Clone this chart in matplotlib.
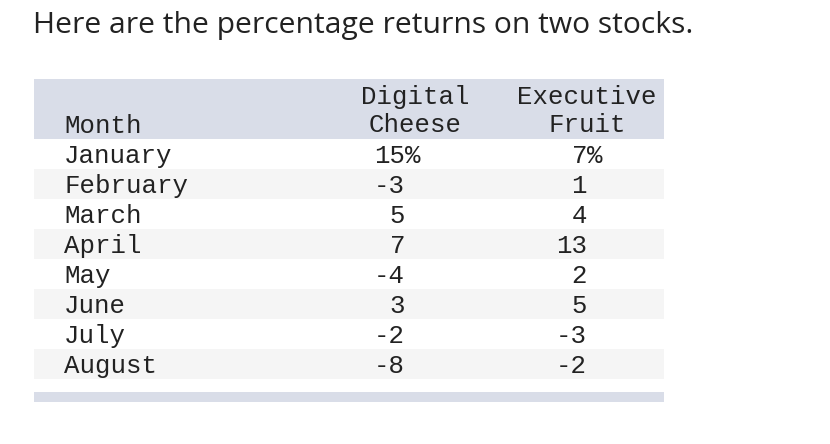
import matplotlib.pyplot as plt
import matplotlib.patches as patches

title = "Here are the percentage returns on two stocks."
col_heads = ["Month", "Digital\nCheese", "Executive\nFruit"]
months = ["January", "February", "March", "April", "May", "June", "July", "August"]
digital_cheese = [15, -3, 5, 7, -4, 3, -2, -8]
executive_fruit = [7, 1, 4, 13, 2, 5, -3, -2]

band = "#d9dde8"
stripe = "#f5f5f5"
ink = "#222222"
mono = "Liberation Mono"

fig = plt.figure(figsize=(8.3, 4.44), dpi=100)
ax = fig.add_axes([0, 0, 1, 1])
ax.set_xlim(0, 830)
ax.set_ylim(444, 0)
ax.axis("off")

# title
ax.text(33, 26, title, fontsize=21.6, family="Open Sans", color=ink, va="center", ha="left")

# table frame
left, right = 34, 664
head_top, head_bot = 79, 139
row_h = 30

ax.add_patch(patches.Rectangle((left, head_top), right - left, head_bot - head_top,
                               facecolor=band, edgecolor="none"))
for i in range(len(months)):
    if i % 2 == 1:
        ax.add_patch(patches.Rectangle((left, head_bot + i * row_h), right - left, row_h,
                                       facecolor=stripe, edgecolor="none"))
ax.add_patch(patches.Rectangle((left, 392), right - left, 10, facecolor=band, edgecolor="none"))

# header
fs = 18.5
ax.text(64, 126, col_heads[0], fontsize=fs, family=mono, color=ink, ha="left", va="center")
ax.text(415, 111, col_heads[1], fontsize=fs, family=mono, color=ink, ha="center", va="center",
        linespacing=1.2)
ax.text(587, 111, col_heads[2], fontsize=fs, family=mono, color=ink, ha="center", va="center",
        linespacing=1.2)

# rows
x_dc, x_ef = 405, 587
for i, (m, a, b) in enumerate(zip(months, digital_cheese, executive_fruit)):
    y = head_bot + i * row_h + row_h / 2 + 1.5
    ax.text(64, y, m, fontsize=fs, family=mono, color=ink, ha="left", va="center")
    ax.text(x_dc, y, f"{a:d}", fontsize=fs, family=mono, color=ink, ha="right", va="center")
    ax.text(x_ef, y, f"{b:d}", fontsize=fs, family=mono, color=ink, ha="right", va="center")
    if i == 0:
        ax.text(x_dc, y, "%", fontsize=fs, family=mono, color=ink, ha="left", va="center")
        ax.text(x_ef, y, "%", fontsize=fs, family=mono, color=ink, ha="left", va="center")

fig.savefig("out.png", dpi=100)
